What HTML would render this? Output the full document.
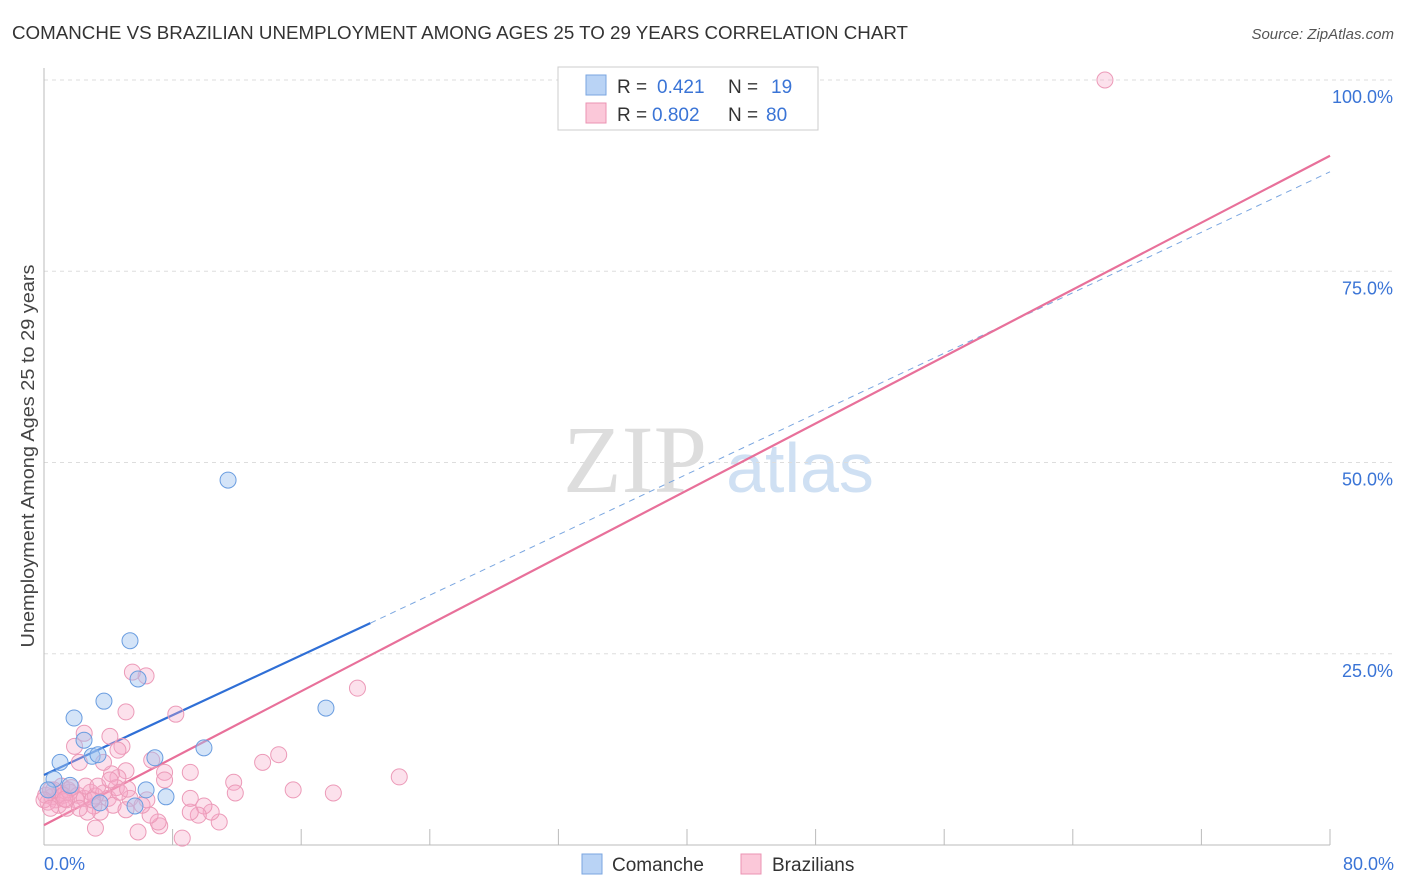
<!DOCTYPE html>
<html><head><meta charset="utf-8">
<style>
body{margin:0;background:#fff;font-family:"Liberation Sans",sans-serif;}
#wrap{position:relative;width:1406px;height:892px;overflow:hidden;}
</style></head>
<body>
<div id="wrap">
<svg id="svg" width="1406" height="892" xmlns="http://www.w3.org/2000/svg">
<text x="12" y="39" font-size="18" fill="#333" textLength="896" lengthAdjust="spacingAndGlyphs">COMANCHE VS BRAZILIAN UNEMPLOYMENT AMONG AGES 25 TO 29 YEARS CORRELATION CHART</text>
<text x="1394" y="39" font-size="15" fill="#555" font-style="italic" text-anchor="end">Source: ZipAtlas.com</text>
<text x="34" y="456" font-size="18" fill="#444" text-anchor="middle" textLength="383" lengthAdjust="spacingAndGlyphs" transform="rotate(-90 34 456)">Unemployment Among Ages 25 to 29 years</text>
<g><text x="635" y="492" font-size="96" fill="#ddd" font-family="Liberation Serif,serif" text-anchor="middle">ZIP</text><text x="800" y="492" font-size="70" fill="#cfe0f3" text-anchor="middle">atlas</text></g>
<g id="grid"></g><g id="axes"></g><g id="lines"></g><g id="pts"></g>
<g>
<rect x="558" y="67" width="260" height="63" fill="#fff" stroke="#ccc"/>
<rect x="586" y="75" width="20" height="20" fill="#b9d3f5" stroke="#7aa6e0"/>
<rect x="586" y="103" width="20" height="20" fill="#fbc8d9" stroke="#eb93b3"/>
<text x="617" y="93" font-size="19" fill="#333">R = </text><text x="657" y="93" font-size="19" fill="#3a74d6">0.421</text>
<text x="728" y="93" font-size="19" fill="#333">N = </text><text x="771" y="93" font-size="19" fill="#3a74d6">19</text>
<text x="617" y="121" font-size="19" fill="#333">R = </text><text x="652" y="121" font-size="19" fill="#3a74d6">0.802</text>
<text x="728" y="121" font-size="19" fill="#333">N = </text><text x="766" y="121" font-size="19" fill="#3a74d6">80</text>
</g>
<g>
<rect x="582" y="854" width="20" height="20" fill="#b9d3f5" stroke="#7aa6e0"/>
<text x="612" y="871" font-size="19" fill="#333">Comanche</text>
<rect x="741" y="854" width="20" height="20" fill="#fbc8d9" stroke="#eb93b3"/>
<text x="772" y="871" font-size="19" fill="#333">Brazilians</text>
</g>
</svg>
</div>
<script>
const yTicks=[25,50,75,100];
const yTickLabels=["25.0%","50.0%","75.0%","100.0%"];
const xTicks=[0,8,16,24,32,40,48,56,64,72,80];
const comX=[0.62,1.0,1.87,2.49,2.99,3.36,3.73,3.48,5.35,5.85,5.66,6.9,7.59,9.95,11.45,17.54,0.25,1.62,6.35];
const comY=[8.6,10.8,16.6,13.7,11.6,11.8,18.8,5.5,26.7,21.7,5.1,11.4,6.3,12.7,47.7,17.9,7.2,7.8,7.2];
const braX=[66.0,19.5,22.1,14.6,13.6,15.5,18.0,11.8,11.9,10.9,10.4,9.95,9.6,9.1,9.1,8.6,8.2,7.5,7.5,7.2,7.1,6.6,6.7,6.35,5.5,5.1,4.85,5.1,4.6,4.2,4.1,3.7,4.0,4.3,4.5,5.35,5.85,6.4,3.5,3.2,3.1,2.7,2.5,2.2,1.9,2.0,1.6,1.4,1.0,0.75,0.5,0.25,0.1,0.4,1.1,1.5,2.1,2.5,2.9,3.7,3.2,4.7,5.1,6.1,0.9,0.6,1.2,1.7,2.6,3.35,4.1,5.2,0,0.4,1.4,2.2,3.0,9.1,4.6,1.3];
const braY=[100,20.5,8.9,11.8,10.8,7.2,6.8,8.2,6.8,3.0,4.3,5.1,3.9,4.3,6.1,0.9,17.1,9.5,8.5,2.5,3.0,3.9,11.1,22.1,22.6,17.4,12.9,9.7,8.8,9.3,14.2,10.8,6.1,5.2,7.5,6.1,1.7,5.9,4.3,2.2,5.1,4.3,14.6,10.8,12.9,5.9,6.9,5.9,6.8,5.9,6.3,5.6,6.5,7.2,7.7,7.2,6.5,6.1,6.9,6.8,6.4,6.9,4.6,5.2,5.2,7.2,6.5,7.5,7.7,7.7,8.5,7.3,5.9,4.8,4.8,4.8,5.9,9.5,12.4,6.0];
const comLine=[[0,9.15],[20.3,29.0]];
const comDash=[[20.3,29.0],[80,88.0]];
const braLine=[[0,2.6],[80,90.1]];
const NS="http://www.w3.org/2000/svg";
const sx=v=>44+v*16.075, sy=v=>845-v*7.65;
function mk(tag,attrs,parent){const e=document.createElementNS(NS,tag);for(const k in attrs)e.setAttribute(k,attrs[k]);document.getElementById(parent).appendChild(e);return e;}
yTicks.forEach((t,i)=>{
 const l=mk('line',{x1:44,x2:1394,y1:sy(t),y2:sy(t),stroke:'#ddd','stroke-dasharray':'4,4'},'grid');
 
 
 const tx=mk('text',{x:1393,y:sy(t)+23,'font-size':18,fill:'#3a74d6','text-anchor':'end'},'grid');
 tx.textContent=yTickLabels[i];
 
 
});
const ax=mk('line',{x1:44,x2:1330,y1:845,y2:845,stroke:'#bbb'},'axes');


const ay=mk('line',{x1:44,x2:44,y1:68,y2:845,stroke:'#bbb'},'axes');


xTicks.forEach(t=>{
 const l=mk('line',{x1:sx(t),x2:sx(t),y1:829,y2:845,stroke:'#bbb'},'axes');
 
 
});
const x0=mk('text',{x:44,y:870,'font-size':18,fill:'#3a74d6'},'axes');x0.textContent='0.0%';


const x1=mk('text',{x:1394,y:870,'font-size':18,fill:'#3a74d6','text-anchor':'end'},'axes');x1.textContent='80.0%';


function ln(p,st,w,dash,name){const l=mk('line',{x1:sx(p[0][0]),y1:sy(p[0][1]),x2:sx(p[1][0]),y2:sy(p[1][1]),stroke:st,'stroke-width':w},'lines');if(dash)l.setAttribute('stroke-dasharray',dash);
 
 }
ln(comDash,'#7aa6e0',1,'6,5','comanche-trend-extension');
ln(braLine,'#e8709a',2.2,null,'brazilians-trend-line');
ln(comLine,'#2f6fd6',2.2,null,'comanche-trend-line');
braX.forEach((v,i)=>{const c=mk('circle',{cx:sx(v),cy:sy(braY[i]),r:8,fill:'rgba(247,170,200,0.35)',stroke:'#ec9ab8','stroke-width':1},'pts');
 
 });
comX.forEach((v,i)=>{const c=mk('circle',{cx:sx(v),cy:sy(comY[i]),r:8,fill:'rgba(160,195,240,0.45)',stroke:'#6a9de0','stroke-width':1},'pts');
 
 });
</script>
</body></html>
